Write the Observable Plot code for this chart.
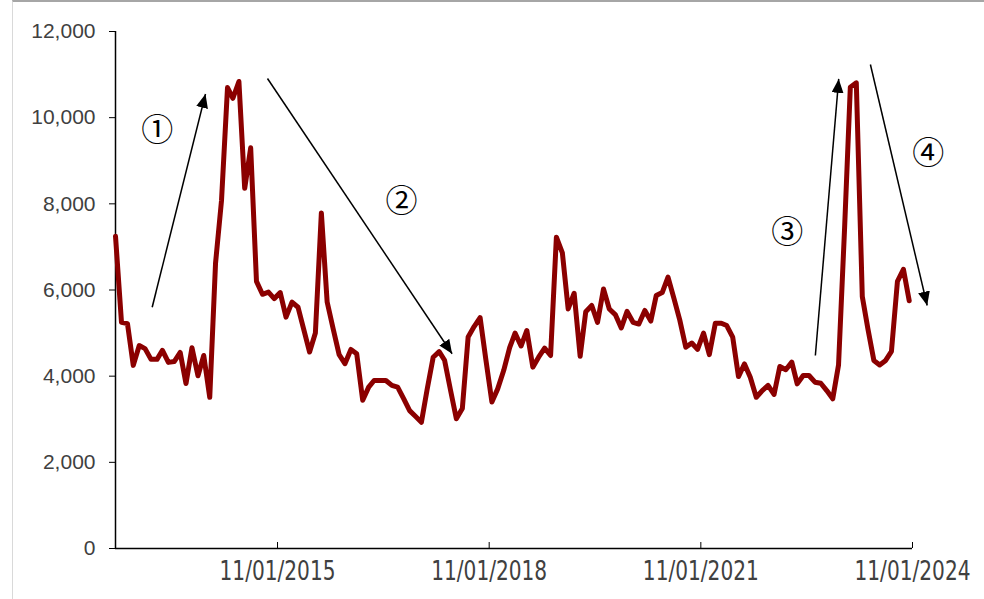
<!DOCTYPE html>
<html>
<head>
<meta charset="utf-8">
<script src="https://cdn.jsdelivr.net/npm/d3@7"></script>
<script src="https://cdn.jsdelivr.net/npm/@observablehq/plot@0.6"></script>
<style>
  html, body { margin: 0; padding: 0; background: #fff; }
  #chart { position: relative; width: 984px; height: 599px; overflow: hidden; }
  #frame { position: absolute; left: 12px; top: 0; right: 0; bottom: 0;
           border-top: 2px solid #a6a6a6; border-left: 1.5px solid #d9d9d9; pointer-events: none; }
  #chart svg { position: absolute; left: 0; top: 0; }
</style>
</head>
<body>
<div id="chart"><div id="frame"></div></div>
<script>
// Monthly series, first observation mid-July 2013
const firstMonth = "2013-07-15";
const values = [
  7250, 5250, 5220, 4250, 4710, 4640, 4390, 4390, 4600, 4320,
  4340, 4550, 3830, 4660, 4010, 4480, 3510, 6620, 8080, 10700,
  10450, 10840, 8360, 9300, 6200, 5900, 5950, 5800, 5940, 5370,
  5720, 5600, 5100, 4560, 5000, 7790, 5720, 5100, 4500, 4290,
  4620, 4520, 3440, 3745, 3900, 3900, 3900, 3785, 3745, 3480,
  3200, 3070, 2930, 3700, 4440, 4570, 4370, 3670, 3010, 3250,
  4910, 5150, 5360, 4380, 3400, 3705, 4130, 4660, 5000, 4700,
  5060, 4210, 4440, 4650, 4480, 7225, 6860, 5560, 5925, 4460,
  5495, 5640, 5250, 6025, 5560, 5430, 5120, 5505, 5250, 5210,
  5525, 5280, 5870, 5940, 6300, 5800, 5300, 4670, 4770, 4620,
  5000, 4500, 5230, 5230, 5175, 4905, 3990, 4285, 3975, 3510,
  3665, 3785, 3575, 4225, 4150, 4325, 3820, 4015, 4015, 3860,
  3835, 3665, 3475, 4260, 7400, 10705, 10810, 5850, 5100, 4365,
  4260, 4365, 4575, 6200, 6480, 5750
];

// Axis ticks
const axisEnd = "2024-11-01";
const xTickDates = ["2015-11-01", "2018-11-01", "2021-11-01", "2024-11-01"];
const yTickValues = [0, 2000, 4000, 6000, 8000, 10000, 12000];

// Phase arrows (start -> end) and their circled numbers
const arrowStartDate = ["2014-01-21", "2015-09-10", "2023-06-17", "2024-03-28"];
const arrowStartValue = [5600, 10910, 4480, 11235];
const arrowEndDate = ["2014-10-24", "2018-04-23", "2023-10-16", "2025-01-16"];
const arrowEndValue = [10550, 4520, 10900, 5640];
const phaseText = ["①", "②", "③", "④"];
const phaseDate = ["2014-02-16", "2017-08-04", "2023-01-22", "2025-01-21"];
const phaseValue = [9685, 8040, 7320, 9160];

const parse = d3.utcParse("%Y-%m-%d");
const start = parse(firstMonth);
const series = values.map((v, i) => ({date: d3.utcMonth.offset(start, i), value: v}));
const arrows = arrowStartDate.map((d, i) => ({
  x1: parse(d), y1: arrowStartValue[i], x2: parse(arrowEndDate[i]), y2: arrowEndValue[i]
}));
const phases = phaseText.map((t, i) => ({text: t, date: parse(phaseDate[i]), value: phaseValue[i]}));

const chart = Plot.plot({
  width: 984,
  height: 599,
  marginLeft: 115,
  marginRight: 72,
  marginTop: 31,
  marginBottom: 51,
  x: {type: "utc", domain: [start, parse(axisEnd)]},
  y: {domain: [0, 12000]},
  style: {background: "transparent", overflow: "visible", fontFamily: "'Liberation Sans', Arial, sans-serif"},
  marks: [
    Plot.axisY({
      ticks: yTickValues, tickFormat: d3.format(","), tickSize: 6, tickPadding: 14,
      stroke: "#000", fill: "#404040", fontSize: 21, label: null
    }),
    Plot.axisX({
      ticks: xTickDates.map(parse), tickFormat: d3.utcFormat("%m/%d/%Y"), tickSize: -6, tickPadding: 19,
      stroke: "#000", fill: "#404040", fontSize: 26, label: null,
      fontFamily: "'Liberation Sans Narrow', 'Arial Narrow', 'DejaVu Sans Condensed', sans-serif"
    }),
    Plot.ruleX([start], {stroke: "#000", strokeWidth: 1.5}),
    Plot.ruleY([0], {stroke: "#000", strokeWidth: 1.5}),
    Plot.line(series, {x: "date", y: "value", stroke: "#8b0000", strokeWidth: 5, strokeLinejoin: "round"}),
    Plot.link(arrows, {x1: "x1", y1: "y1", x2: "x2", y2: "y2", stroke: "#000", strokeWidth: 1.5, markerEnd: "arrow"}),
    Plot.text(phases, {x: "date", y: "value", text: "text", fontSize: 32, fill: "#000",
      fontFamily: "'Noto Sans CJK JP', 'DejaVu Sans', sans-serif"})
  ]
});

// Condensed date labels under the time axis
d3.select(chart).selectAll("[aria-label='x-axis tick label'] text")
  .attr("textLength", 116).attr("lengthAdjust", "spacingAndGlyphs");

// Solid triangular arrowheads
d3.select(chart).selectAll("marker").each(function () {
  const m = d3.select(this);
  m.attr("viewBox", "-14 -6 14 12").attr("markerWidth", 9.33).attr("markerHeight", 8)
   .attr("fill", "#000").attr("stroke", "none");
  m.selectAll("*").remove();
  m.append("path").attr("d", "M-14,-6L0,0L-14,6Z");
});

document.getElementById("chart").appendChild(chart);
</script>
</body>
</html>
